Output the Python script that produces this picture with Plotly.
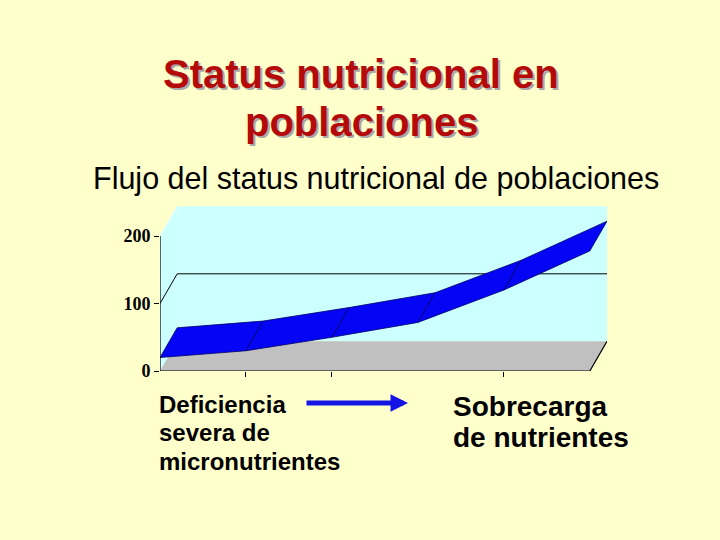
import plotly.graph_objects as go

# ---- data ----
categories = [0, 1, 2, 3, 4, 5]
values = [20, 30, 50, 72, 120, 178]
y_ticks = [0, 100, 200]
x_tick_marks = [1, 2, 4]
title_lines = ["Status nutricional en", "poblaciones"]
subtitle = "Flujo del status nutricional de poblaciones"
left_label = ["Deficiencia", "severa de", "micronutrientes"]
right_label = ["Sobrecarga", "de nutrientes"]

# ---- style / 3-D depth (offset of back plane) ----
DX = 0.2     # in category units
DY = 44      # in value units
YMAX = 200
BG = "#FFFFCC"
WALL = "#CCFFFF"
FLOOR = "#C0C0C0"
RIBBON = "#0505F5"
EDGE = "#000066"

W, H = 720, 540
L, R, T, B = 160, 113, 206, 169
pw, ph = W - L - R, H - T - B


def px(x):
    return (x - L) / pw


def py(y):
    return (H - B - y) / ph


fig = go.Figure()
n = len(categories)
x0, x1 = categories[0], categories[-1]

def poly(xs, ys, fill, line_color=None, width=0):
    fig.add_trace(go.Scatter(x=xs, y=ys, mode="lines", fill="toself",
                             fillcolor=fill,
                             line=dict(color=line_color or fill, width=width),
                             hoverinfo="skip", showlegend=False))

def line(xs, ys, color="black", width=1):
    fig.add_trace(go.Scatter(x=xs, y=ys, mode="lines",
                             line=dict(color=color, width=width),
                             hoverinfo="skip", showlegend=False))

# back wall
poly([x0 + DX, x1 + DX, x1 + DX, x0 + DX, x0 + DX],
     [DY, DY, YMAX + DY, YMAX + DY, DY], WALL)
# left wall
poly([x0, x0, x0 + DX, x0 + DX, x0], [0, YMAX, YMAX + DY, DY, 0], WALL)
# floor
poly([x0, x1, x1 + DX, x0 + DX, x0], [0, 0, DY, DY, 0], FLOOR)
# gridline at 100 (back wall + left wall)
line([x0, x0 + DX, x1 + DX], [100, 100 + DY, 100 + DY], "black", 1)
# top-left edge of left wall
line([x0, x0 + DX], [YMAX, YMAX + DY], "#E8FFFF", 1)

# ribbon segments
for i in range(n - 1):
    xa, xb = categories[i], categories[i + 1]
    va, vb = values[i], values[i + 1]
    poly([xa, xb, xb + DX, xa + DX, xa],
         [va, vb, vb + DY, va + DY, va], RIBBON, EDGE, 0.8)

# axis lines
line([x0, x0], [0, YMAX], "black", 1.2)
line([x0, x1, x1 + DX], [0, 0, DY], "black", 1.2)

fig.update_xaxes(range=[x0, x1 + DX], showgrid=False, zeroline=False,
                 showline=False, tickvals=x_tick_marks, ticktext=["" for _ in x_tick_marks],
                 ticks="outside", ticklen=5, tickcolor="black", tickwidth=1)
fig.update_yaxes(range=[0, YMAX + DY + 0.5], showgrid=False, zeroline=False,
                 showline=False, tickvals=y_ticks, ticks="outside", ticklen=5,
                 tickcolor="black", tickwidth=1,
                 tickfont=dict(family="Liberation Serif",
                               size=18, color="black", weight="bold"))

ann = []
for t, yy in zip(title_lines, [74, 122]):
    ann.append(dict(text=t, x=px(361), y=py(yy), xref="paper", yref="paper",
                    showarrow=False, xanchor="center", yanchor="middle",
                    font=dict(family="Liberation Sans", size=40, color="#B40A0A",
                              weight="bold", shadow="2px 2px 0px #A8A8A8")))
ann.append(dict(text=subtitle, x=px(375.5), y=py(178), xref="paper", yref="paper",
                showarrow=False, xanchor="center", yanchor="middle",
                font=dict(family="Liberation Sans", size=30.5, color="black")))
for t, yy in zip(left_label, [404, 432, 461]):
    ann.append(dict(text=t, x=px(157), y=py(yy), xref="paper", yref="paper",
                    showarrow=False, xanchor="left", yanchor="middle",
                    font=dict(family="Liberation Sans", size=24, color="black",
                              weight="bold")))
for t, yy in zip(right_label, [406, 437]):
    ann.append(dict(text=t, x=px(451), y=py(yy), xref="paper", yref="paper",
                    showarrow=False, xanchor="left", yanchor="middle",
                    font=dict(family="Liberation Sans", size=28, color="black",
                              weight="bold")))
# arrow
ann.append(dict(text="", x=px(408), y=py(403), ax=-103, ay=0,
                xref="paper", yref="paper", axref="pixel", ayref="pixel",
                showarrow=True, arrowhead=2, arrowsize=0.7, arrowwidth=5,
                arrowcolor="#1414E6"))

fig.update_layout(width=W, height=H, margin=dict(l=L, r=R, t=T, b=B),
                  paper_bgcolor=BG, plot_bgcolor=BG, annotations=ann,
                  showlegend=False)

fig.write_html("out.html", config={"displayModeBar": False})

# remove the default page margin so the figure fills the window exactly
with open("out.html", encoding="utf-8") as f:
    html = f.read()
html = html.replace("<head>", "<head><style>html,body{margin:0;padding:0;overflow:hidden}</style>", 1)
with open("out.html", "w", encoding="utf-8") as f:
    f.write(html)
